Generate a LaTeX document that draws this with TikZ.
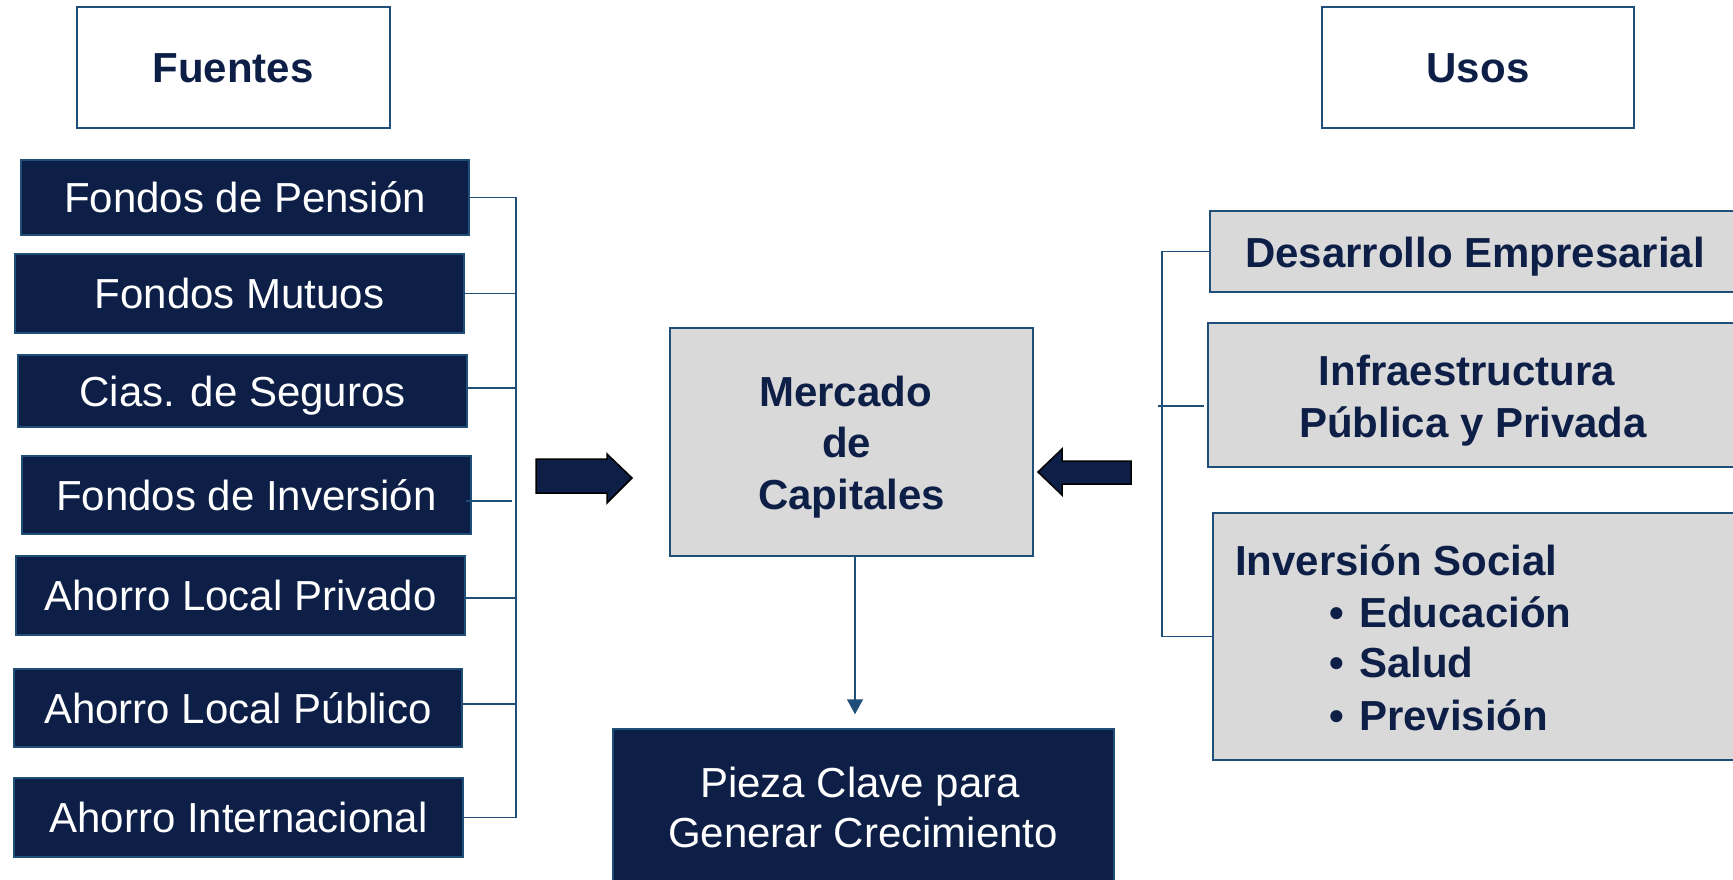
\documentclass[tikz,border=0pt]{standalone}
\usepackage{fontspec}
\setmainfont{Liberation Sans}
\usetikzlibrary{arrows.meta,calc}
\definecolor{navy}{HTML}{0E1F47}
\definecolor{edgeblue}{HTML}{1F4E79}
\definecolor{boxgray}{HTML}{D9D9D9}
\begin{document}
\begin{tikzpicture}[x=1pt,y=-1pt,
  big/.style={font=\fontsize{42}{50}\selectfont},
  srcbox/.style={big,fill=navy,draw=edgeblue,line width=1.5pt,text=white,
    inner sep=0pt,text height=30pt,text depth=0pt},
  graybox/.style={fill=boxgray,draw=edgeblue,line width=1.5pt,inner sep=0pt},
  headbox/.style={fill=white,draw=edgeblue,line width=1.5pt,inner sep=0pt},
  boldtxt/.style={big,font=\fontsize{42}{50}\selectfont\bfseries,text=navy,inner sep=0pt,anchor=base},
  whitetxt/.style={big,text=white,inner sep=0pt,anchor=base},
  conn/.style={draw=edgeblue,line width=1.5pt},
  blockarrow/.style={fill=navy,draw=black,line width=1.5pt,line join=miter}]
\useasboundingbox (0,0) rectangle (1733,880);

% headers
\node[headbox,minimum width=313pt,minimum height=121pt] (fuentes) at (233.5,67.5) {};
\node[boldtxt] (fuentestxt) at (233,82.7) {Fuentes};
\node[headbox,minimum width=312pt,minimum height=121pt] (usos) at (1478,67.5) {};
\node[boldtxt] (usostxt) at (1478,82.7) {Usos};

% sources
\node[srcbox,minimum width=448pt,minimum height=75pt] (pension) at (245,197.5) {Fondos de Pensión};
\node[srcbox,minimum width=449pt,minimum height=79pt] (mutuos) at (239.5,293.5) {Fondos Mutuos};
\node[srcbox,minimum width=449pt,minimum height=72pt] (seguros) at (242.5,391) {Cias. de Seguros};
\node[srcbox,minimum width=449pt,minimum height=78pt] (inversion) at (246.5,495) {Fondos de Inversión};
\node[srcbox,minimum width=449pt,minimum height=79pt] (privado) at (240.5,595.5) {Ahorro Local Privado};
\node[srcbox,minimum width=448pt,minimum height=78pt] (publico) at (238,708) {Ahorro Local Público};
\node[srcbox,minimum width=449pt,minimum height=79pt] (intl) at (238.5,817.5) {Ahorro Internacional};

% left bus
\coordinate (lbus) at (516,0);
\coordinate (lbusS) at (512,0);
\draw[conn] (pension.east) -- (pension.east -| lbus) -- (intl.east -| lbus) -- (intl.east);
\draw[conn] (mutuos.east) -- (mutuos.east -| lbus);
\coordinate (segS) at ($(seguros.east)+(0,-3)$);
\draw[conn] (segS) -- (segS -| lbus);
\coordinate (invS) at ($(inversion.east)+(-6,6)$);
\draw[conn] (invS) -- (invS -| lbusS);
\coordinate (priS) at ($(privado.east)+(0,2.5)$);
\draw[conn] (priS) -- (priS -| lbus);
\coordinate (pubS) at ($(publico.east)+(0,-4)$);
\draw[conn] (pubS) -- (pubS -| lbus);

% centre
\node[graybox,minimum width=363pt,minimum height=228pt] (mercado) at (851.5,442) {};
\node[boldtxt] (merc1) at (845.5,406) {Mercado};
\node[boldtxt] (merc2) at (846.5,457) {de};
\node[boldtxt] (merc3) at (851.5,509) {Capitales};

\draw[blockarrow] (536,459) -- (607,459) -- (607,454) -- (632,478) -- (607,503) -- (607,493) -- (536,493) -- cycle;
\draw[blockarrow] (1131,461) -- (1062,461) -- (1062,449) -- (1038,472) -- (1062,495) -- (1062,484) -- (1131,484) -- cycle;

\node[fill=navy,draw=edgeblue,line width=1.5pt,inner sep=0pt,minimum width=501pt,minimum height=166pt] (pieza) at (863.5,812) {};
\node[whitetxt] (pieza1) at (860,797) {Pieza Clave para};
\node[whitetxt] (pieza2) at (863,847) {Generar Crecimiento};

\draw[conn,-{Triangle[width=16pt,length=15pt]}] ([xshift=3.5pt]mercado.south) -- ([xshift=-8.5pt,yshift=14pt]pieza.north);

% uses
\node[graybox,minimum width=535pt,minimum height=81pt] (desarrollo) at (1477.5,251.5) {};
\node[boldtxt] (desarrollotxt) at (1475,267) {Desarrollo Empresarial};
\node[graybox,minimum width=537pt,minimum height=144pt] (infra) at (1476.5,395) {};
\node[boldtxt] (infra1) at (1467,385) {Infraestructura};
\node[boldtxt] (infra2) at (1473,437) {Pública y Privada};
\node[graybox,minimum width=532pt,minimum height=247pt] (social) at (1479,636.5) {};
\node[boldtxt,anchor=base west] (social0) at (1235,575) {Inversión Social};
\node[boldtxt,anchor=base west] (b1) at (1329,627) {•};
\node[boldtxt,anchor=base west] (social1) at (1359,627) {Educación};
\node[boldtxt,anchor=base west] (b2) at (1329,677) {•};
\node[boldtxt,anchor=base west] (social2) at (1359,677) {Salud};
\node[boldtxt,anchor=base west] (b3) at (1329,730) {•};
\node[boldtxt,anchor=base west] (social3) at (1359,730) {Previsión};

% right bus
\coordinate (rbus) at (1162,0);
\coordinate (rbusL) at (1158,0);
\draw[conn] (desarrollo.west) -- (desarrollo.west -| rbus) -- (social.west -| rbus) -- (social.west);
\coordinate (infS) at ($(infra.west)+(-3,11)$);
\draw[conn] (infS) -- (infS -| rbusL);
\end{tikzpicture}
\end{document}
